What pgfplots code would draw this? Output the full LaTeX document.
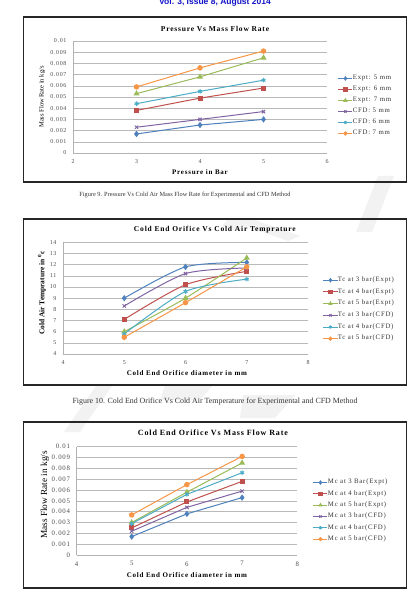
\documentclass[border=0pt]{standalone}
\usepackage{fontspec}
\setmainfont{Liberation Serif}
\newfontfamily\headfont{Liberation Sans}
\newfontfamily\wide{Liberation Serif}[LetterSpace=11]
\usepackage{pgfplots}
\pgfplotsset{compat=1.18}

\definecolor{exblue}{HTML}{4F81BD}
\definecolor{exred}{HTML}{C0504D}
\definecolor{exgreen}{HTML}{9BBB59}
\definecolor{expurple}{HTML}{8064A2}
\definecolor{excyan}{HTML}{4BACC6}
\definecolor{exorange}{HTML}{F79646}
\definecolor{headblue}{RGB}{20,20,200}
\definecolor{wmark}{gray}{0.95}

\pgfplotsset{
  sheet/.style={
    scale only axis,
    axis x line*=bottom, axis y line*=left,
    axis line style={draw=gray!60, line width=0.5pt},
    ymajorgrids, grid style={draw=gray!55, line width=0.45pt},
    major tick length=0pt,
    /pgf/number format/assume math mode=true,
    tick label style={font=\wide\fontsize{6}{7}\selectfont, text=black!70},
    xticklabel style={yshift=-3pt},
    yticklabel style={xshift=-3pt},
    every axis title shift=0pt,
    title style={font=\wide\fontsize{7.5}{8}\selectfont\bfseries, anchor=center},
    every axis x label/.style={font=\wide\fontsize{7}{8}\selectfont\bfseries, anchor=center},
    every axis y label/.style={font=\fontsize{6.5}{7}\selectfont, rotate=90, anchor=center},
    clip=false,
    legend cell align=left,
    legend style={draw=none, fill=none, anchor=north west,
      font=\wide\fontsize{6.8}{7}\selectfont, text=black!80, inner sep=0pt, outer sep=0pt,
      nodes={inner sep=0pt, text height=4pt, text depth=1.5pt},
      /tikz/every even column/.append style={column sep=2pt}},
    legend image code/.code={\draw[mark repeat=2,mark phase=2,mark size=1.6pt]
      plot coordinates {(0pt,0pt) (7pt,0pt) (14pt,0pt)};},
    every axis plot/.append style={line width=1pt},
  },
  sA/.style={exblue, mark=diamond*, mark size=2.4pt, mark options={solid}},
  sB/.style={exred, mark=square*, mark size=2pt},
  sC/.style={exgreen, mark=triangle*, mark size=2.5pt},
  sD/.style={expurple, mark=x, mark size=2.3pt},
  sE/.style={excyan, mark=asterisk, mark size=2.3pt},
  sF/.style={exorange, mark=*, mark size=2.2pt},
}

\begin{document}
\begin{tikzpicture}
% page area
\fill[white] (0pt,0pt) rectangle (412pt,-601pt);

% faint page watermark strokes
\fill[wmark] (228pt,-219pt) -- (252pt,-219pt) -- (300pt,-236pt) -- (288pt,-241pt) -- (245pt,-226pt) -- (236pt,-231pt) -- (222pt,-226pt) -- cycle;
\fill[wmark] (378pt,-176pt) -- (394pt,-176pt) -- (372pt,-232pt) -- (356pt,-232pt) -- cycle;
\fill[wmark] (96pt,-386pt) -- (112pt,-386pt) -- (80pt,-432pt) -- (64pt,-432pt) -- cycle;
\fill[wmark] (165pt,-386pt) -- (212pt,-386pt) -- (200pt,-400pt) -- (160pt,-400pt) -- cycle;
\fill[wmark] (243pt,-395pt) -- (295pt,-395pt) -- (275pt,-418pt) -- (240pt,-418pt) -- cycle;

% journal header line (runs off the top edge)
\node[overlay, font=\headfont\fontsize{8.5}{10}\selectfont\bfseries, text=headblue, anchor=base]
  at (215pt,-4.5pt) {Vol. 3, Issue 8, August 2014};

% frames around the three charts
\draw[black!85, line width=1.6pt] (23.5pt,-17pt) rectangle (406.5pt,-182pt);
\draw[black!85, line width=1.6pt] (23.5pt,-219pt) rectangle (406.5pt,-385pt);
\draw[black!85, line width=1.6pt] (23.5pt,-422pt) rectangle (406.5pt,-588pt);

% captions
\node[font=\fontsize{6.3}{7}\selectfont, text=black!80] at (185pt,-195pt)
  {Figure 9. Pressure Vs Cold Air Mass Flow Rate for Experimental and CFD Method};
\node[font=\fontsize{7.9}{9}\selectfont, text=black!80] at (215pt,-402pt)
  {Figure 10. Cold End Orifice Vs Cold Air Temperature for Experimental and CFD Method};

% ---------- Figure 9: pressure vs mass flow rate ----------
\begin{axis}[sheet,
  at={(73pt,-153pt)}, anchor=south west, width=254pt, height=112pt,
  xmin=2, xmax=6, ymin=0, ymax=0.01,
  xtick={2,3,4,5,6},
  ytick={0,0.001,0.002,0.003,0.004,0.005,0.006,0.007,0.008,0.009,0.01},
  scaled y ticks=false,
  yticklabel style={/pgf/number format/.cd, fixed, precision=3},
  title={Pressure Vs Mass Flow Rate},
  title style={at={(axis description cs:0.559,1.107)}},
  xlabel={Pressure in Bar},
  xlabel style={at={(axis description cs:0.5,-0.17)}},
  ylabel={Mass Flow Rate in kg/s},
  ylabel style={at={(axis description cs:-0.122,0.5)}},
  legend style={at={(axis description cs:1.043,0.69)}, row sep=5.5pt},
]
\addplot[sA] coordinates {(3,0.0017) (4,0.0025) (5,0.0030)};
\addlegendentry{Expt: 5 mm}
\addplot[sB] coordinates {(3,0.0038) (4,0.0049) (5,0.0058)};
\addlegendentry{Expt: 6 mm}
\addplot[sC] coordinates {(3,0.0053) (4,0.0068) (5,0.0085)};
\addlegendentry{Expt: 7 mm}
\addplot[sD] coordinates {(3,0.0023) (4,0.0030) (5,0.0037)};
\addlegendentry{CFD: 5 mm}
\addplot[sE] coordinates {(3,0.0044) (4,0.0055) (5,0.0065)};
\addlegendentry{CFD: 6 mm}
\addplot[sF] coordinates {(3,0.0059) (4,0.0076) (5,0.0091)};
\addlegendentry{CFD: 7 mm}
\end{axis}

% ---------- Figure 10: orifice vs cold air temperature ----------
\begin{axis}[sheet,
  at={(63pt,-354pt)}, anchor=south west, width=245pt, height=111.7pt,
  xmin=4, xmax=8, ymin=4, ymax=14,
  xtick={4,5,6,7,8}, ytick={4,5,...,14},
  title={Cold End Orifice Vs Cold Air Temprature},
  title style={at={(axis description cs:0.62,1.11)}},
  xlabel={Cold End Orifice diameter in mm},
  xlabel style={at={(axis description cs:0.506,-0.17)}},
  ylabel={Cold Air Temprature in \textsuperscript{0}c},
  ylabel style={at={(axis description cs:-0.0857,0.546)}, font=\fontsize{7.4}{8}\selectfont\bfseries},
  legend style={at={(axis description cs:1.061,0.685)}, row sep=6.2pt},
  every axis plot/.append style={smooth, tension=0.45},
]
\addplot[sA] coordinates {(5,9.0) (6,11.8) (7,12.2)};
\addlegendentry{Tc at 3 bar(Expt)}
\addplot[sB] coordinates {(5,7.1) (6,10.2) (7,11.4)};
\addlegendentry{Tc at 4 bar(Expt)}
\addplot[sC] coordinates {(5,6.0) (6,9.0) (7,12.6)};
\addlegendentry{Tc at 5 bar(Expt)}
\addplot[sD] coordinates {(5,8.3) (6,11.2) (7,11.7)};
\addlegendentry{Tc at 3 bar(CFD)}
\addplot[sE] coordinates {(5,5.8) (6,9.6) (7,10.7)};
\addlegendentry{Tc at 4 bar(CFD)}
\addplot[sF] coordinates {(5,5.5) (6,8.6) (7,11.8)};
\addlegendentry{Tc at 5 bar(CFD)}
\end{axis}

% ---------- Figure 11: orifice vs mass flow rate ----------
\begin{axis}[sheet,
  at={(76.5pt,-555pt)}, anchor=south west, width=220.8pt, height=108.3pt,
  xmin=4, xmax=8, ymin=0, ymax=0.01,
  xtick={4,5,6,7,8},
  ytick={0,0.001,0.002,0.003,0.004,0.005,0.006,0.007,0.008,0.009,0.01},
  scaled y ticks=false,
  yticklabel style={/pgf/number format/.cd, fixed, precision=3},
  tick label style={font=\wide\fontsize{6.8}{7}\selectfont},
  title={Cold End Orifice Vs Mass Flow Rate},
  title style={at={(axis description cs:0.618,1.126)}, font=\wide\fontsize{8}{9}\selectfont\bfseries},
  xlabel={Cold End Orifice diameter in mm},
  xlabel style={at={(axis description cs:0.5,-0.185)}},
  ylabel={Mass Flow Rate in kg/s},
  ylabel style={at={(axis description cs:-0.143,0.554)}, font=\fontsize{9.3}{10}\selectfont},
  legend style={at={(axis description cs:1.071,0.694)}, row sep=5.8pt},
]
\addplot[sA] coordinates {(5,0.0017) (6,0.0038) (7,0.0053)};
\addlegendentry{Mc at 3 Bar(Expt)}
\addplot[sB] coordinates {(5,0.0025) (6,0.0049) (7,0.0068)};
\addlegendentry{Mc at 4 bar(Expt)}
\addplot[sC] coordinates {(5,0.0030) (6,0.0058) (7,0.0085)};
\addlegendentry{Mc at 5 bar(Expt)}
\addplot[sD] coordinates {(5,0.0022) (6,0.0044) (7,0.0059)};
\addlegendentry{Mc at 3 bar(CFD)}
\addplot[sE] coordinates {(5,0.0029) (6,0.0056) (7,0.0076)};
\addlegendentry{Mc at 4 bar(CFD)}
\addplot[sF] coordinates {(5,0.0037) (6,0.0065) (7,0.0091)};
\addlegendentry{Mc at 5 bar(CFD)}
\end{axis}
\end{tikzpicture}
\end{document}
